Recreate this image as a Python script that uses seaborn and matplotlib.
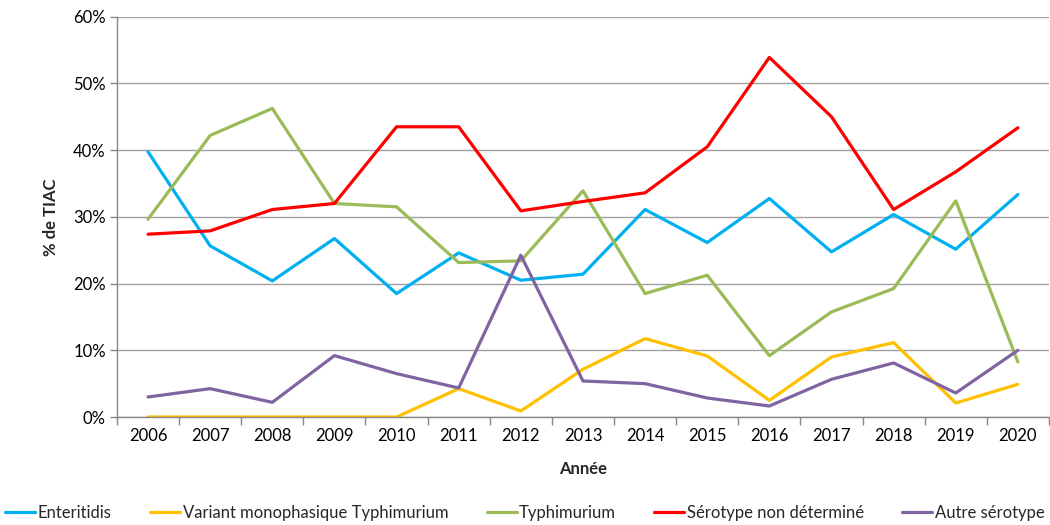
import numpy as np
import pandas as pd
import matplotlib
matplotlib.use("Agg")
import matplotlib.pyplot as plt
import seaborn as sns
from matplotlib.ticker import FixedLocator, PercentFormatter

years = [2006, 2007, 2008, 2009, 2010, 2011, 2012, 2013, 2014, 2015, 2016, 2017, 2018, 2019, 2020]
enteritidis = [39.75, 25.65, 20.4, 26.75, 18.5, 24.6, 20.5, 21.4, 31.1, 26.15, 32.75, 24.75, 30.35, 25.15, 33.35]
variant_mono = [0, 0, 0, 0, 0, 4.25, 0.9, 7.15, 11.75, 9.15, 2.5, 9.0, 11.15, 2.1, 4.9]
typhimurium = [29.65, 42.2, 46.25, 32.0, 31.5, 23.15, 23.4, 33.9, 18.5, 21.25, 9.2, 15.75, 19.25, 32.4, 8.25]
non_determine = [27.4, 27.9, 31.1, 32.0, 43.5, 43.5, 30.9, 32.3, 33.6, 40.5, 53.9, 45.0, 31.1, 36.75, 43.35]
autre = [3.0, 4.25, 2.2, 9.2, 6.5, 4.35, 24.25, 5.4, 5.0, 2.85, 1.65, 5.65, 8.1, 3.6, 10.0]

series_names = ["Enteritidis", "Variant monophasique Typhimurium", "Typhimurium",
                "Sérotype non déterminé", "Autre sérotype"]
series_values = [enteritidis, variant_mono, typhimurium, non_determine, autre]
colors = ["#00B0F0", "#FFC000", "#9BBB59", "#FF0000", "#8064A2"]

rows = []
for name, vals in zip(series_names, series_values):
    for i, (y, v) in enumerate(zip(years, vals)):
        rows.append({"idx": i, "Année": y, "pct": v, "serie": name})
df = pd.DataFrame(rows)

sns.set_theme(style="white")
plt.rcParams["font.family"] = ["Lato", "DejaVu Sans"]

fig = plt.figure(figsize=(10.5, 5.25), dpi=100)
ax = fig.add_axes([0.1114, 0.2057, 0.8876, 0.7625])

sns.lineplot(data=df, x="idx", y="pct", hue="serie", hue_order=series_names,
             palette=colors, linewidth=2.3, ax=ax, legend=True, sort=False)

ax.set_xlim(-0.5, len(years) - 0.5)
ax.set_ylim(0, 60)
ax.set_yticks(np.arange(0, 61, 10))
ax.yaxis.set_major_formatter(PercentFormatter(decimals=0))
ax.set_xticks(range(len(years)))
ax.set_xticklabels([str(y) for y in years])
ax.xaxis.set_minor_locator(FixedLocator(np.arange(-0.5, len(years), 1.0)))
ax.tick_params(axis="x", which="major", length=0, pad=8, labelsize=12, colors="black")
ax.tick_params(axis="x", which="minor", length=6, width=1, color="#868686", bottom=True)
ax.tick_params(axis="y", which="major", length=5, width=1, color="#868686", left=True,
               labelsize=12, pad=3, colors="black")

ax.grid(axis="y", color="#A0A0A0", linewidth=1)
ax.set_axisbelow(True)
for s in ["top", "right"]:
    ax.spines[s].set_visible(False)
for s in ["left", "bottom"]:
    ax.spines[s].set_color("#868686")
    ax.spines[s].set_linewidth(1)

ax.set_xlabel("Année", fontsize=12, fontweight="bold", labelpad=12)
ax.set_ylabel("% de TIAC", fontsize=12, fontweight="bold", labelpad=10)

handles, labels = ax.get_legend_handles_labels()
ax.get_legend().remove()
fig.legend(handles, labels, loc="center", bbox_to_anchor=(0.5, 0.023), ncol=5,
           frameon=False, fontsize=12, handlelength=1.8, handletextpad=0.15,
           columnspacing=2.3, borderaxespad=0)

fig.savefig("out.png", dpi=100)
